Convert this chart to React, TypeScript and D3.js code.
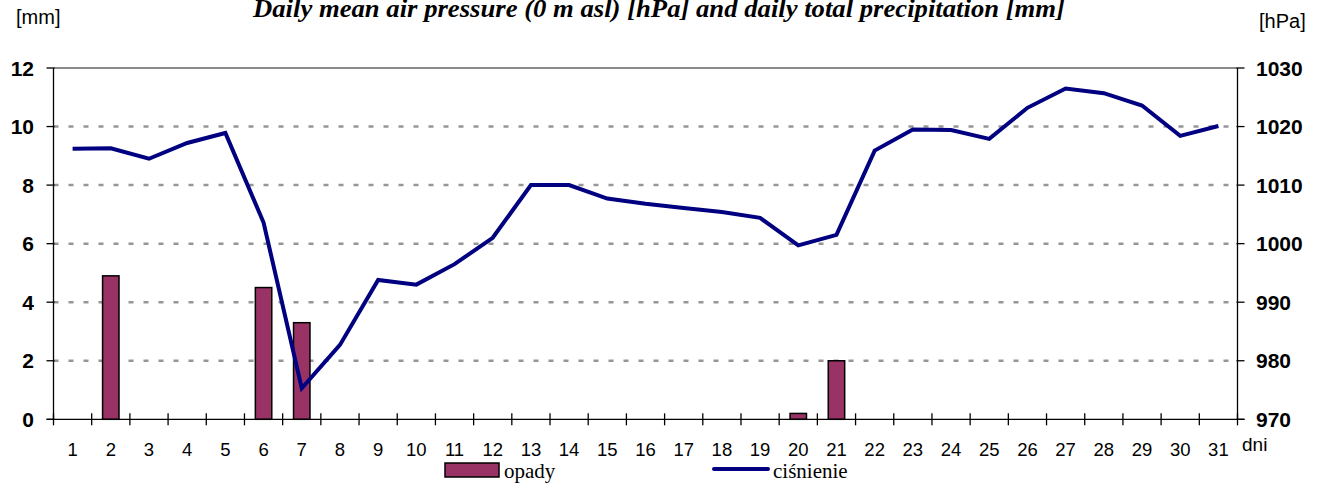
import React, { useEffect } from "react";
import * as d3 from "d3";

const days: string[] = d3.range(1, 32).map((d) => String(d));

// daily total precipitation [mm]
const precipitation: number[] = [
  0, 4.9, 0, 0, 0, 4.5, 3.3, 0, 0, 0, 0, 0, 0, 0, 0, 0, 0, 0, 0, 0.2, 2.0, 0, 0,
  0, 0, 0, 0, 0, 0, 0, 0,
];

// daily mean air pressure [hPa]
const pressure: number[] = [
  1016.2, 1016.3, 1014.5, 1017.2, 1018.9, 1003.6, 975.3, 982.7, 993.8, 993.0,
  996.5, 1001.0, 1010.0, 1010.0, 1007.7, 1006.8, 1006.1, 1005.4, 1004.4, 999.7,
  1001.5, 1015.9, 1019.5, 1019.4, 1017.9, 1023.2, 1026.5, 1025.7, 1023.6,
  1018.4, 1020.1,
];

const mmTicks: number[] = [0, 2, 4, 6, 8, 10, 12];
const hPaTicks: number[] = [970, 980, 990, 1000, 1010, 1020, 1030];

const title =
  "Daily mean air pressure (0 m asl) [hPa] and daily total precipitation [mm]";

export default function App() {
  const svgRef = React.useRef<SVGSVGElement>(null);
  const width = 1328;
  const height = 485;

  useEffect(() => {
    const svg = d3.select(svgRef.current);
    svg.selectAll("*").remove();

    const left = 53.5;
    const right = 1237.5;
    const top = 68;
    const bottom = 419.3;

    const x = d3.scaleBand<string>().domain(days).range([left, right]).padding(0);
    const yMm = d3.scaleLinear().domain([0, 12]).range([bottom, top]);
    const yHpa = d3.scaleLinear().domain([970, 1030]).range([bottom, top]);

    // gridlines
    svg
      .append("g")
      .selectAll("line")
      .data(mmTicks.filter((t) => t > 0 && t < 12))
      .enter()
      .append("line")
      .attr("x1", left)
      .attr("x2", right)
      .attr("y1", (d) => yMm(d))
      .attr("y2", (d) => yMm(d))
      .attr("stroke", "#969696")
      .attr("stroke-width", 2.5)
      .attr("stroke-dasharray", "5,10");

    svg
      .append("line")
      .attr("x1", left)
      .attr("x2", right)
      .attr("y1", yMm(12))
      .attr("y2", yMm(12))
      .attr("stroke", "#8a8a8a")
      .attr("stroke-width", 2);

    // bars
    const barW = x.bandwidth() * 0.43;
    svg
      .append("g")
      .selectAll("rect")
      .data(precipitation.map((v, i) => ({ day: days[i], v })).filter((d) => d.v > 0))
      .enter()
      .append("rect")
      .attr("x", (d) => (x(d.day) as number) + x.bandwidth() / 2 - barW / 2)
      .attr("y", (d) => yMm(d.v))
      .attr("width", barW)
      .attr("height", (d) => yMm(0) - yMm(d.v))
      .attr("fill", "#993366")
      .attr("stroke", "#000")
      .attr("stroke-width", 1.5);

    // axes lines
    const axisG = svg.append("g").attr("stroke", "#000").attr("stroke-width", 1.3);
    axisG.append("line").attr("x1", left).attr("x2", left).attr("y1", top).attr("y2", bottom);
    axisG.append("line").attr("x1", right).attr("x2", right).attr("y1", top).attr("y2", bottom);
    axisG.append("line").attr("x1", left - 7).attr("x2", right + 7).attr("y1", bottom).attr("y2", bottom);

    // left ticks
    axisG
      .selectAll(".lt")
      .data(mmTicks)
      .enter()
      .append("line")
      .attr("x1", left - 7)
      .attr("x2", left + 1)
      .attr("y1", (d) => yMm(d))
      .attr("y2", (d) => yMm(d));

    axisG
      .selectAll(".rt")
      .data(hPaTicks)
      .enter()
      .append("line")
      .attr("x1", right - 1)
      .attr("x2", right + 7)
      .attr("y1", (d) => yHpa(d))
      .attr("y2", (d) => yHpa(d));

    // x ticks at category boundaries
    axisG
      .selectAll(".xt")
      .data(days.concat(["end"]))
      .enter()
      .append("line")
      .attr("x1", (d, i) => left + i * x.step())
      .attr("x2", (d, i) => left + i * x.step())
      .attr("y1", bottom - 6)
      .attr("y2", bottom + 6);

    // pressure line
    const line = d3
      .line<number>()
      .x((d, i) => (x(days[i]) as number) + x.bandwidth() / 2)
      .y((d) => yHpa(d));

    svg
      .append("path")
      .datum(pressure)
      .attr("d", line)
      .attr("fill", "none")
      .attr("stroke", "#000080")
      .attr("stroke-width", 4)
      .attr("stroke-linejoin", "miter")
      .attr("stroke-linecap", "butt");

    const sans = "Arial, 'Liberation Sans', sans-serif";
    const serif = "'Times New Roman', 'Liberation Serif', serif";

    // tick labels
    svg
      .append("g")
      .selectAll("text")
      .data(mmTicks)
      .enter()
      .append("text")
      .attr("x", 34)
      .attr("y", (d) => yMm(d))
      .attr("dy", "0.36em")
      .attr("text-anchor", "end")
      .attr("font-family", sans)
      .attr("font-weight", "bold")
      .attr("font-size", 21)
      .text((d) => d);

    svg
      .append("g")
      .selectAll("text")
      .data(hPaTicks)
      .enter()
      .append("text")
      .attr("x", 1256)
      .attr("y", (d) => yHpa(d))
      .attr("dy", "0.36em")
      .attr("font-family", sans)
      .attr("font-weight", "bold")
      .attr("font-size", 21)
      .text((d) => d);

    svg
      .append("g")
      .selectAll("text")
      .data(days)
      .enter()
      .append("text")
      .attr("x", (d) => (x(d) as number) + x.bandwidth() / 2)
      .attr("y", 456)
      .attr("text-anchor", "middle")
      .attr("font-family", sans)
      .attr("font-size", 18.5)
      .text((d) => d);

    svg
      .append("text")
      .attr("x", 1242)
      .attr("y", 451)
      .attr("font-family", sans)
      .attr("font-size", 19)
      .text("dni");

    svg
      .append("text")
      .attr("x", 16)
      .attr("y", 24)
      .attr("font-family", sans)
      .attr("font-size", 20)
      .text("[mm]");

    svg
      .append("text")
      .attr("x", 1259)
      .attr("y", 28)
      .attr("font-family", sans)
      .attr("font-size", 20)
      .text("[hPa]");

    svg
      .append("text")
      .attr("x", 253)
      .attr("y", 17)
      .attr("font-family", serif)
      .attr("font-weight", "bold")
      .attr("font-style", "italic")
      .attr("font-size", 25)
      .attr("textLength", 812)
      .attr("lengthAdjust", "spacingAndGlyphs")
      .text(title);

    // legend
    svg
      .append("rect")
      .attr("x", 445)
      .attr("y", 463)
      .attr("width", 54)
      .attr("height", 14)
      .attr("fill", "#993366")
      .attr("stroke", "#000")
      .attr("stroke-width", 1.5);
    svg
      .append("text")
      .attr("x", 504)
      .attr("y", 478)
      .attr("font-family", serif)
      .attr("font-size", 21)
      .text("opady");

    svg
      .append("line")
      .attr("x1", 714)
      .attr("x2", 768)
      .attr("y1", 469)
      .attr("y2", 469)
      .attr("stroke", "#000080")
      .attr("stroke-width", 4)
      .attr("stroke-linecap", "round");
    svg
      .append("text")
      .attr("x", 773)
      .attr("y", 478)
      .attr("font-family", serif)
      .attr("font-size", 21)
      .text("ciśnienie");
  }, []);

  return (
    <svg
      ref={svgRef}
      width={width}
      height={height}
      style={{ position: "absolute", left: 0, top: 0, background: "#fff" }}
    />
  );
}
